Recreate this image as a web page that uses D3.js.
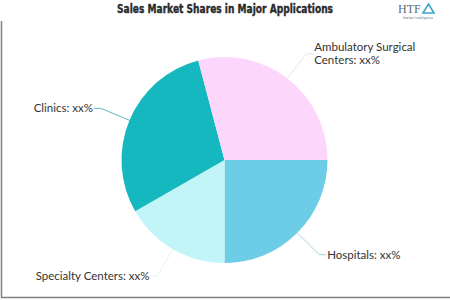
<!DOCTYPE html>
<html>
<head>
<meta charset="utf-8">
<script src="https://cdn.jsdelivr.net/npm/d3@7"></script>
<style>
  body { margin: 0; background: #fff; }
  svg { display: block; }
</style>
</head>
<body>
<div id="chart"></div>
<script>
// Sales market shares pie

const CATEGORIES = ["Hospitals", "Specialty Centers", "Clinics", "Ambulatory Surgical Centers"];
const SHARES = [25, 16.7, 29.2, 29.1];
const LABEL_LINES = [
  ["Hospitals: xx%"],
  ["Specialty Centers: xx%"],
  ["Clinics: xx%"],
  ["Ambulatory Surgical", "Centers: xx%"]
];
const COLORS = ["#6dcce6", "#c1f5f8", "#14b8be", "#fdd6fb"];
const LINE_COLORS = ["#a9cfd8", "#e0f6f8", "#5fb9bd", "#e6e6e6"];

const width = 450, height = 300;
const cx = 224.5, cy = 160, radius = 103;

const svg = d3.select("#chart").append("svg")
  .attr("width", width)
  .attr("height", height);

// frame (left + bottom only)
svg.append("line")
  .attr("x1", 1.5).attr("y1", 21).attr("x2", 1.5).attr("y2", 297.5)
  .attr("stroke", "#808080").attr("stroke-width", 1.5);
svg.append("line")
  .attr("x1", 1).attr("y1", 297.5).attr("x2", width).attr("y2", 297.5)
  .attr("stroke", "#808080").attr("stroke-width", 1.5);

// title
svg.append("text")
  .attr("x", 117)
  .attr("y", 13)
  .attr("textLength", 216)
  .attr("lengthAdjust", "spacingAndGlyphs")
  .style("font-family", "'DejaVu Sans', sans-serif")
  .style("font-weight", "bold")
  .style("font-size", "12px")
  .style("fill", "#2b2b2b")
  .style("stroke", "#2b2b2b")
  .style("stroke-width", 0.4)
  .text("Sales Market Shares in Major Applications");

// logo
const logo = svg.append("g").attr("transform", "translate(398,0)");
logo.append("text")
  .attr("x", 0).attr("y", 13)
  .style("font-family", "'Liberation Serif', serif")
  .style("font-size", "12px")
  .style("fill", "#5a6a7a")
  .text("HTF");
logo.append("path")
  .attr("d", "M25,13 L30.5,4 L36,13 Z")
  .attr("fill", "none")
  .attr("stroke", "#3aa7c9")
  .attr("stroke-width", 1.6);
logo.append("text")
  .attr("x", 20).attr("y", 19)
  .attr("text-anchor", "middle")
  .attr("textLength", 30)
  .attr("lengthAdjust", "spacingAndGlyphs")
  .style("font-family", "'DejaVu Sans', sans-serif")
  .style("font-size", "3.5px")
  .style("fill", "#6a7a8a")
  .text("Market Intelligence");

const data = CATEGORIES.map((c, i) => ({ name: c, value: SHARES[i], i }));

const pie = d3.pie()
  .sort(null)
  .value(d => d.value)
  .startAngle(Math.PI / 2)
  .endAngle(Math.PI / 2 + 2 * Math.PI);

const arc = d3.arc().innerRadius(0).outerRadius(radius);
const edgeArc = d3.arc().innerRadius(radius).outerRadius(radius);
const elbowArc = d3.arc().innerRadius(radius * 1.3).outerRadius(radius * 1.3);

const arcs = pie(data);

const g = svg.append("g").attr("transform", `translate(${cx},${cy})`);

g.selectAll("path.slice")
  .data(arcs)
  .join("path")
  .attr("class", "slice")
  .attr("d", arc)
  .attr("fill", d => COLORS[d.data.i]);

// leader lines + labels
arcs.forEach(d => {
  const p0 = edgeArc.centroid(d);
  const p1 = elbowArc.centroid(d);
  const right = p1[0] > 0;
  const p2 = [p1[0] + (right ? 7 : -7), p1[1]];

  g.append("polyline")
    .attr("points", [p0, p1, p2].map(p => p.join(",")).join(" "))
    .attr("fill", "none")
    .attr("stroke", LINE_COLORS[d.data.i])
    .attr("stroke-width", 1);

  const lines = LABEL_LINES[d.data.i];
  const lh = 13;
  const t = g.append("text")
    .attr("text-anchor", right ? "start" : "end")
    .style("font-family", "Lato, 'Open Sans', sans-serif")
    .style("font-size", "11.5px")
    .style("fill", "#333");
  lines.forEach((ln, k) => {
    t.append("tspan")
      .attr("x", p2[0] + (right ? 1 : -1))
      .attr("y", p2[1] + 4 + (k - (lines.length - 1) / 2) * lh)
      .text(ln);
  });
});
</script>
</body>
</html>
